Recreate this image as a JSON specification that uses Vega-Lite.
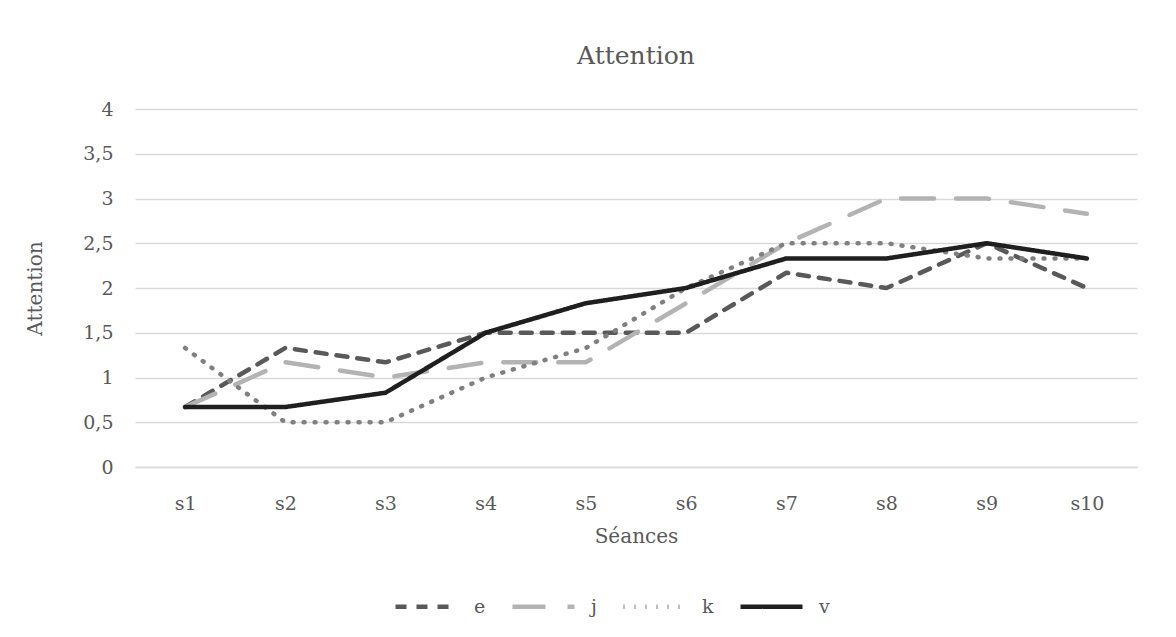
{
  "$schema": "https://vega.github.io/schema/vega-lite/v6.json",
  "width": 1002,
  "height": 358,
  "autosize": {"type": "none"},
  "padding": {"left": 135, "top": 109, "right": 39, "bottom": 170},
  "background": "white",
  "config": {"view": {"stroke": null}, "font": "DejaVu Serif"},
  "title": {"text": "Attention", "fontSize": 25, "font": "DejaVu Serif", "fontWeight": "normal", "color": "#595959", "offset": 31},
  "data": {"values": [
    {"s": "s1", "serie": "e", "v": 0.67}, {"s": "s2", "serie": "e", "v": 1.33}, {"s": "s3", "serie": "e", "v": 1.17}, {"s": "s4", "serie": "e", "v": 1.5}, {"s": "s5", "serie": "e", "v": 1.5}, {"s": "s6", "serie": "e", "v": 1.5}, {"s": "s7", "serie": "e", "v": 2.17}, {"s": "s8", "serie": "e", "v": 2.0}, {"s": "s9", "serie": "e", "v": 2.5}, {"s": "s10", "serie": "e", "v": 2.0},
    {"s": "s1", "serie": "j", "v": 0.67}, {"s": "s2", "serie": "j", "v": 1.17}, {"s": "s3", "serie": "j", "v": 1.0}, {"s": "s4", "serie": "j", "v": 1.17}, {"s": "s5", "serie": "j", "v": 1.17}, {"s": "s6", "serie": "j", "v": 1.83}, {"s": "s7", "serie": "j", "v": 2.5}, {"s": "s8", "serie": "j", "v": 3.0}, {"s": "s9", "serie": "j", "v": 3.0}, {"s": "s10", "serie": "j", "v": 2.83},
    {"s": "s1", "serie": "k", "v": 1.33}, {"s": "s2", "serie": "k", "v": 0.5}, {"s": "s3", "serie": "k", "v": 0.5}, {"s": "s4", "serie": "k", "v": 1.0}, {"s": "s5", "serie": "k", "v": 1.33}, {"s": "s6", "serie": "k", "v": 2.0}, {"s": "s7", "serie": "k", "v": 2.5}, {"s": "s8", "serie": "k", "v": 2.5}, {"s": "s9", "serie": "k", "v": 2.33}, {"s": "s10", "serie": "k", "v": 2.33},
    {"s": "s1", "serie": "v", "v": 0.67}, {"s": "s2", "serie": "v", "v": 0.67}, {"s": "s3", "serie": "v", "v": 0.83}, {"s": "s4", "serie": "v", "v": 1.5}, {"s": "s5", "serie": "v", "v": 1.83}, {"s": "s6", "serie": "v", "v": 2.0}, {"s": "s7", "serie": "v", "v": 2.33}, {"s": "s8", "serie": "v", "v": 2.33}, {"s": "s9", "serie": "v", "v": 2.5}, {"s": "s10", "serie": "v", "v": 2.33}
  ]},
  "mark": {"type": "line", "strokeWidth": 4.5, "strokeCap": "round", "strokeJoin": "round"},
  "encoding": {
    "x": {"field": "s", "type": "ordinal", "sort": null,
      "scale": {"type": "point", "padding": 0.5},
      "axis": {"title": "Séances", "labelAngle": 0, "labelFontSize": 19, "labelColor": "#595959", "labelPadding": 27, "ticks": false, "domain": true, "domainColor": "#d9d9d9", "domainWidth": 1.5, "titleFontSize": 20, "titleFontWeight": "normal", "titleColor": "#595959", "titlePadding": 13}},
    "y": {"field": "v", "type": "quantitative",
      "scale": {"domain": [0, 4]},
      "axis": {"title": "Attention", "values": [0, 0.5, 1, 1.5, 2, 2.5, 3, 3.5, 4], "labelExpr": "replace(toString(datum.value), '.', ',')", "labelFontSize": 19, "labelColor": "#595959", "labelPadding": 22, "ticks": false, "domain": false, "grid": true, "gridColor": "#d9d9d9", "gridWidth": 1.5, "titleFontSize": 20, "titleFontWeight": "normal", "titleColor": "#595959", "titlePadding": 37}},
    "color": {"field": "serie", "type": "nominal",
      "scale": {"domain": ["e", "j", "k", "v"], "range": ["#595959", "#b3b3b3", "#808080", "#1f1f1f"]},
      "legend": {"orient": "none", "legendX": 258, "legendY": 464, "direction": "horizontal", "title": null, "symbolType": "stroke", "symbolSize": 3844, "symbolStrokeWidth": 4.5, "labelFontSize": 19, "labelColor": "#595959", "labelOffset": 14, "columnPadding": 17}},
    "strokeDash": {"field": "serie", "type": "nominal",
      "scale": {"domain": ["e", "j", "k", "v"], "range": [[11, 10], [33, 22], [1, 10], [1, 0]]},
      "legend": null}
  }
}
